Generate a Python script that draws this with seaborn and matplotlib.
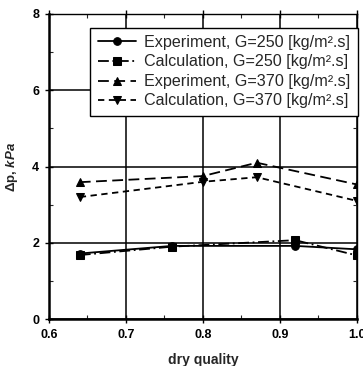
import matplotlib
matplotlib.use("Agg")
import matplotlib.pyplot as plt
import seaborn as sns
import pandas as pd
from matplotlib.ticker import MultipleLocator

sns.set_style("ticks")
plt.rcParams['font.family'] = ['Liberation Sans', 'DejaVu Sans']
plt.rcParams['mathtext.fontset'] = 'custom'
plt.rcParams['mathtext.rm'] = 'Liberation Sans'
plt.rcParams['mathtext.it'] = 'Liberation Sans:italic:bold'
plt.rcParams['mathtext.bf'] = 'Liberation Sans:bold'

# data
x_exp250 = [0.64, 0.76, 0.92, 1.0]
y_exp250 = [1.72, 1.92, 1.92, 1.83]
x_calc250 = [0.64, 0.76, 0.92, 1.0]
y_calc250 = [1.68, 1.90, 2.07, 1.67]
x_exp370 = [0.64, 0.80, 0.87, 1.0]
y_exp370 = [3.59, 3.75, 4.10, 3.53]
x_calc370 = [0.64, 0.80, 0.87, 1.0]
y_calc370 = [3.20, 3.60, 3.72, 3.10]

labels = ["Experiment, G=250 [kg/m².s]",
          "Calculation, G=250 [kg/m².s]",
          "Experiment, G=370 [kg/m².s]",
          "Calculation, G=370 [kg/m².s]"]

fig = plt.figure(figsize=(3.63, 3.66), dpi=100)
ax = fig.add_axes([0.135, 0.128, 0.848, 0.834])

series = [
    (x_exp250, y_exp250, 'o', '-', labels[0]),
    (x_calc250, y_calc250, 's', (0, (6, 2, 1, 2)), labels[1]),
    (x_exp370, y_exp370, '^', (0, (6, 3)), labels[2]),
    (x_calc370, y_calc370, 'v', (0, (3.5, 2.5)), labels[3]),
]
for xs, ys, m, ls, lab in series:
    df = pd.DataFrame({"x": xs, "y": ys})
    sns.lineplot(data=df, x="x", y="y", ax=ax, color='black', marker=m,
                 linestyle=ls, linewidth=1.3, markersize=5.5,
                 markeredgecolor='black', markerfacecolor='black',
                 label=lab, zorder=3)

ax.set_xlim(0.6, 1.0)
ax.set_ylim(0, 8)
ax.xaxis.set_major_locator(MultipleLocator(0.1))
ax.xaxis.set_minor_locator(MultipleLocator(0.05))
ax.yaxis.set_major_locator(MultipleLocator(2))
ax.yaxis.set_minor_locator(MultipleLocator(1))
ax.set_xticks([0.6, 0.7, 0.8, 0.9, 1.0])
ax.set_xticklabels(["0.6", "0.7", "0.8", "0.9", "1.0"])
ax.grid(which='major', color='black', linewidth=1.1)
ax.tick_params(which='major', direction='inout', length=6, width=1, colors='black',
               labelsize=9, top=True, right=False, pad=4)
ax.tick_params(which='minor', direction='in', length=3, width=0.8, top=True, right=True)
for lbl in ax.get_xticklabels() + ax.get_yticklabels():
    lbl.set_fontweight('bold')
for s in ax.spines.values():
    s.set_color('black')
    s.set_linewidth(1.0)
ax.spines['left'].set_linewidth(1.8)
ax.spines['bottom'].set_linewidth(1.8)

ax.set_xlabel("dry quality", fontsize=10, fontweight='bold', labelpad=9)
ax.set_ylabel(r"Δp, $\it{kPa}$", fontsize=9.5, fontweight='bold', labelpad=9)

leg = ax.legend(loc='upper right', bbox_to_anchor=(1.003, 0.955), fontsize=11.6,
                frameon=True, fancybox=False, edgecolor='black', framealpha=1,
                handlelength=2.4, borderpad=0.45, labelspacing=0.28,
                handletextpad=0.5, borderaxespad=0, handleheight=0.6)
leg.get_frame().set_linewidth(1.0)

fig.savefig("out.png", dpi=100)
